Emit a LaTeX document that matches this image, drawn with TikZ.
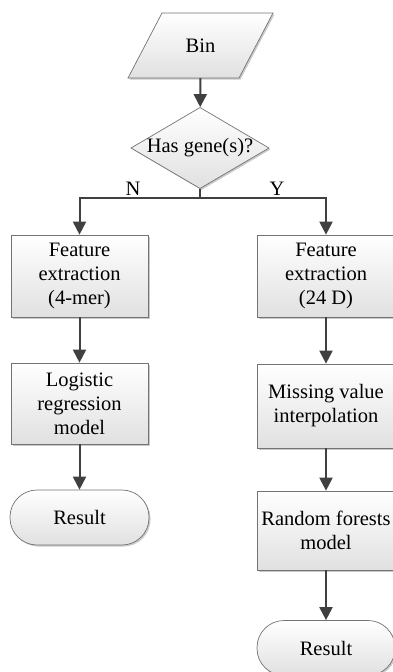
\documentclass[tikz,border=0pt]{standalone}
\usepackage{fontspec}
\setmainfont{Liberation Serif}
\usetikzlibrary{arrows.meta,shapes.geometric,shadows}
\begin{document}
\begin{tikzpicture}[x=1pt,y=-1pt,
  every node/.style={font=\fontsize{20.5}{24}\selectfont, align=center, text=black},
  shp/.style={draw=black!55, line width=0.7pt, top color=white, bottom color=black!12,
    drop shadow={shadow xshift=1.5pt, shadow yshift=-1.5pt, opacity=0.35, fill=black!60}},
  procbox/.style={shp, rectangle, minimum width=137pt, inner sep=2pt},
  termbox/.style={shp, rectangle, rounded corners=27pt, minimum width=139pt, minimum height=55pt},
  decbox/.style={shp, diamond, aspect=1.7, inner sep=0pt, minimum width=136pt, minimum height=80pt},
  arr/.style={draw=black!75, line width=2pt, -{Triangle[width=13pt,length=13pt]}},
  ln/.style={draw=black!75, line width=2pt}
]
\useasboundingbox (0,0) rectangle (392,672);
% Bin parallelogram
\path[shp] (162,13) -- (273,13) -- (239,78) -- (128,78) -- cycle;
\node[minimum width=111pt, minimum height=65pt, inner sep=0pt] (bin) at (200.5,45.5) {Bin};
\node[decbox] (dec) at (200,148) {Has gene(s)?};
\coordinate (j) at (200,198);
\node[procbox, minimum height=82pt] (L1) at (79.5,276) {Feature\\extraction\\(4-mer)};
\node[procbox, minimum height=81pt] (L2) at (79.5,403.5) {Logistic\\regression\\model};
\node[termbox] (L3) at (79.5,517.5) {Result};
\node[procbox, minimum width=138pt, minimum height=82pt] (R1) at (326,276) {Feature\\extraction\\(24 D)};
\node[procbox, minimum width=138pt, minimum height=84pt] (R2) at (326,406) {Missing value\\interpolation};
\node[procbox, minimum width=138pt, minimum height=79pt] (R3) at (326,530.5) {Random forests\\model};
\node[termbox, minimum width=138pt] (R4) at (326,648) {Result};
\node (nlab) at (133,189) {N};
\node (ylab) at (277,189) {Y};
\draw[arr] (bin) -- (dec);
\draw[arr] (dec.south) -- (j) -| (L1.north);
\draw[arr] (j) -| (R1.north);
\draw[arr] (L1) -- (L2);
\draw[arr] (L2) -- (L3);
\draw[arr] (R1) -- (R2);
\draw[arr] (R2) -- (R3);
\draw[arr] (R3) -- (R4);
\end{tikzpicture}
\end{document}
